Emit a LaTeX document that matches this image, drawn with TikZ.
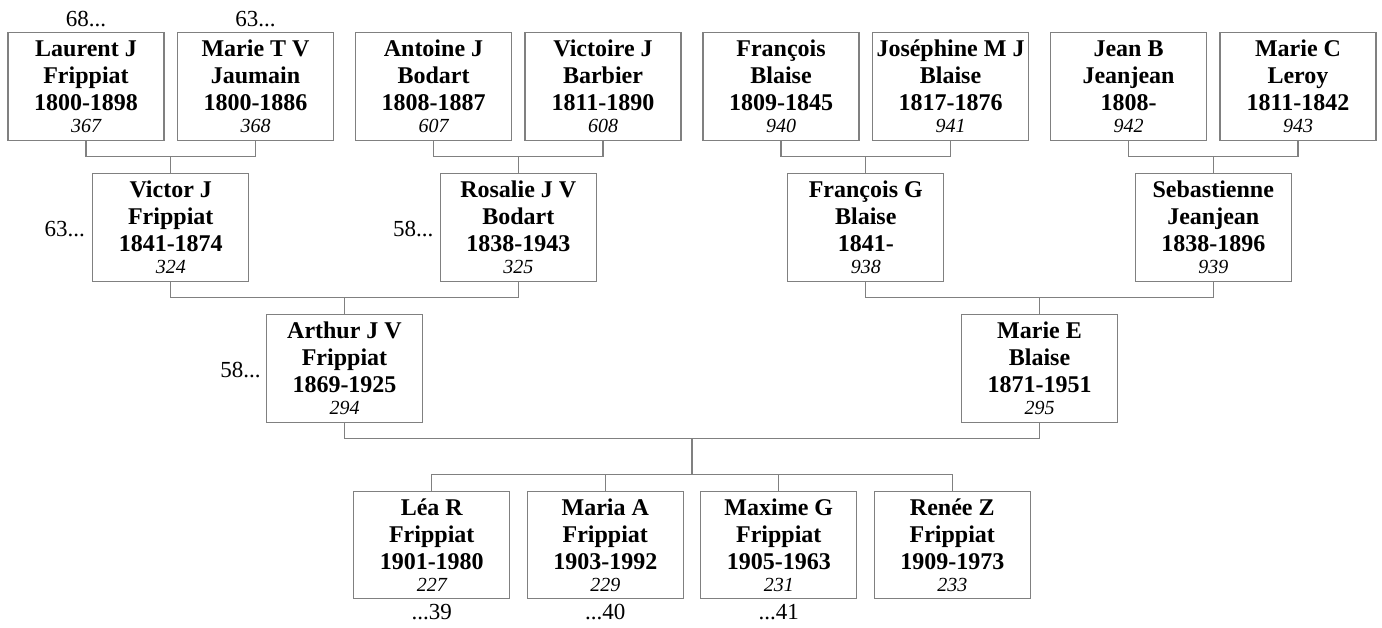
\documentclass[tikz,border=0pt]{standalone}
\usepackage{fontspec}
\setmainfont{Liberation Serif}
\usetikzlibrary{positioning,calc}
\definecolor{linegray}{RGB}{128,128,128}
\tikzset{
  person/.style={draw=linegray, line width=1.2pt, minimum width=156pt, minimum height=107.5pt,
    inner sep=0pt, align=center, font=\fontsize{24}{27}\selectfont\bfseries},
  link/.style={draw=linegray, line width=1.2pt},
  more/.style={inner sep=0pt, font=\fontsize{23}{27}\selectfont}
}
\newcommand{\pers}[4]{#1\\#2\\#3\\[-5pt]{\fontsize{20}{22}\selectfont\mdseries\itshape #4}}

\begin{document}
\begin{tikzpicture}[x=1pt,y=1pt]
  \useasboundingbox (0,0) rectangle (1382,-628);

  % great-grandparents
  \node[person] (laurent)   at (86,-86.5)    {\pers{Laurent J}{Frippiat}{1800-1898}{367}};
  \node[person] (marieTV)   at (255.5,-86.5) {\pers{Marie T V}{Jaumain}{1800-1886}{368}};
  \node[person] (antoine)   at (433.5,-86.5) {\pers{Antoine J}{Bodart}{1808-1887}{607}};
  \node[person] (victoire)  at (603,-86.5)   {\pers{Victoire J}{Barbier}{1811-1890}{608}};
  \node[person] (francois)  at (781,-86.5)   {\pers{François}{Blaise}{1809-1845}{940}};
  \node[person] (josephine) at (950.5,-86.5) {\pers{Joséphine M J}{Blaise}{1817-1876}{941}};
  \node[person] (jeanB)     at (1128.5,-86.5){\pers{Jean B}{Jeanjean}{1808-}{942}};
  \node[person] (marieC)    at (1298,-86.5)  {\pers{Marie C}{Leroy}{1811-1842}{943}};

  % grandparents
  \node[person] (victor)      at (170.75,-227.5)  {\pers{Victor J}{Frippiat}{1841-1874}{324}};
  \node[person] (rosalie)     at (518.25,-227.5)  {\pers{Rosalie J V}{Bodart}{1838-1943}{325}};
  \node[person] (francoisG)   at (865.75,-227.5)  {\pers{François G}{Blaise}{1841-}{938}};
  \node[person] (sebastienne) at (1213.25,-227.5) {\pers{Sebastienne}{Jeanjean}{1838-1896}{939}};

  % parents
  \node[person] (arthur) at (344.5,-368.5)  {\pers{Arthur J V}{Frippiat}{1869-1925}{294}};
  \node[person] (marieE) at (1039.5,-368.5) {\pers{Marie E}{Blaise}{1871-1951}{295}};

  % children
  \node[person] (lea)    at (431.75,-545) {\pers{Léa R}{Frippiat}{1901-1980}{227}};
  \node[person] (maria)  at (605.25,-545) {\pers{Maria A}{Frippiat}{1903-1992}{229}};
  \node[person] (maxime) at (778.75,-545) {\pers{Maxime G}{Frippiat}{1905-1963}{231}};
  \node[person] (renee)  at (952.25,-545) {\pers{Renée Z}{Frippiat}{1909-1973}{233}};

  % continuation marks
  \node[more, above=5pt of laurent] (laurentmore) {68...};
  \node[more, above=5pt of marieTV] (marieTVmore) {63...};
  \node[more, left=7pt of victor, yshift=-2pt]  (victormore)  {63...};
  \node[more, left=6pt of rosalie, yshift=-2pt] (rosaliemore) {58...};
  \node[more, left=5pt of arthur, yshift=-2pt]  (arthurmore)  {58...};
  \node[more, below=5pt of lea]     (leamore)     {...39};
  \node[more, below=5pt of maria]   (mariamore)   {...40};
  \node[more, below=5pt of maxime]  (maximemore)  {...41};

  % couples
  \draw[link] (laurent.south) -- ++(0,-16) -| (marieTV.south);
  \draw[link] (antoine.south) -- ++(0,-16) -| (victoire.south);
  \draw[link] (francois.south) -- ++(0,-16) -| (josephine.south);
  \draw[link] (jeanB.south) -- ++(0,-16) -| (marieC.south);
  \draw[link] (victor.south) -- ++(0,-16) -| (rosalie.south);
  \draw[link] (francoisG.south) -- ++(0,-16) -| (sebastienne.south);
  \draw[link] (arthur.south) -- ++(0,-16) -| (marieE.south);

  % descent
  \draw[link] (victor.north) -- ++(0,16);
  \draw[link] (rosalie.north) -- ++(0,16);
  \draw[link] (francoisG.north) -- ++(0,16);
  \draw[link] (sebastienne.north) -- ++(0,16);
  \draw[link] (arthur.north) -- ++(0,16);
  \draw[link] (marieE.north) -- ++(0,16);
  \draw[link] ($(arthur.south)!.5!(marieE.south)+(0,-16)$) -- ($(maria.north)!.5!(maxime.north)+(0,16)$);
  \draw[link] (lea.north) -- ++(0,16) -| (renee.north);
  \draw[link] (maria.north) -- ++(0,16);
  \draw[link] (maxime.north) -- ++(0,16);

\end{tikzpicture}
\end{document}
